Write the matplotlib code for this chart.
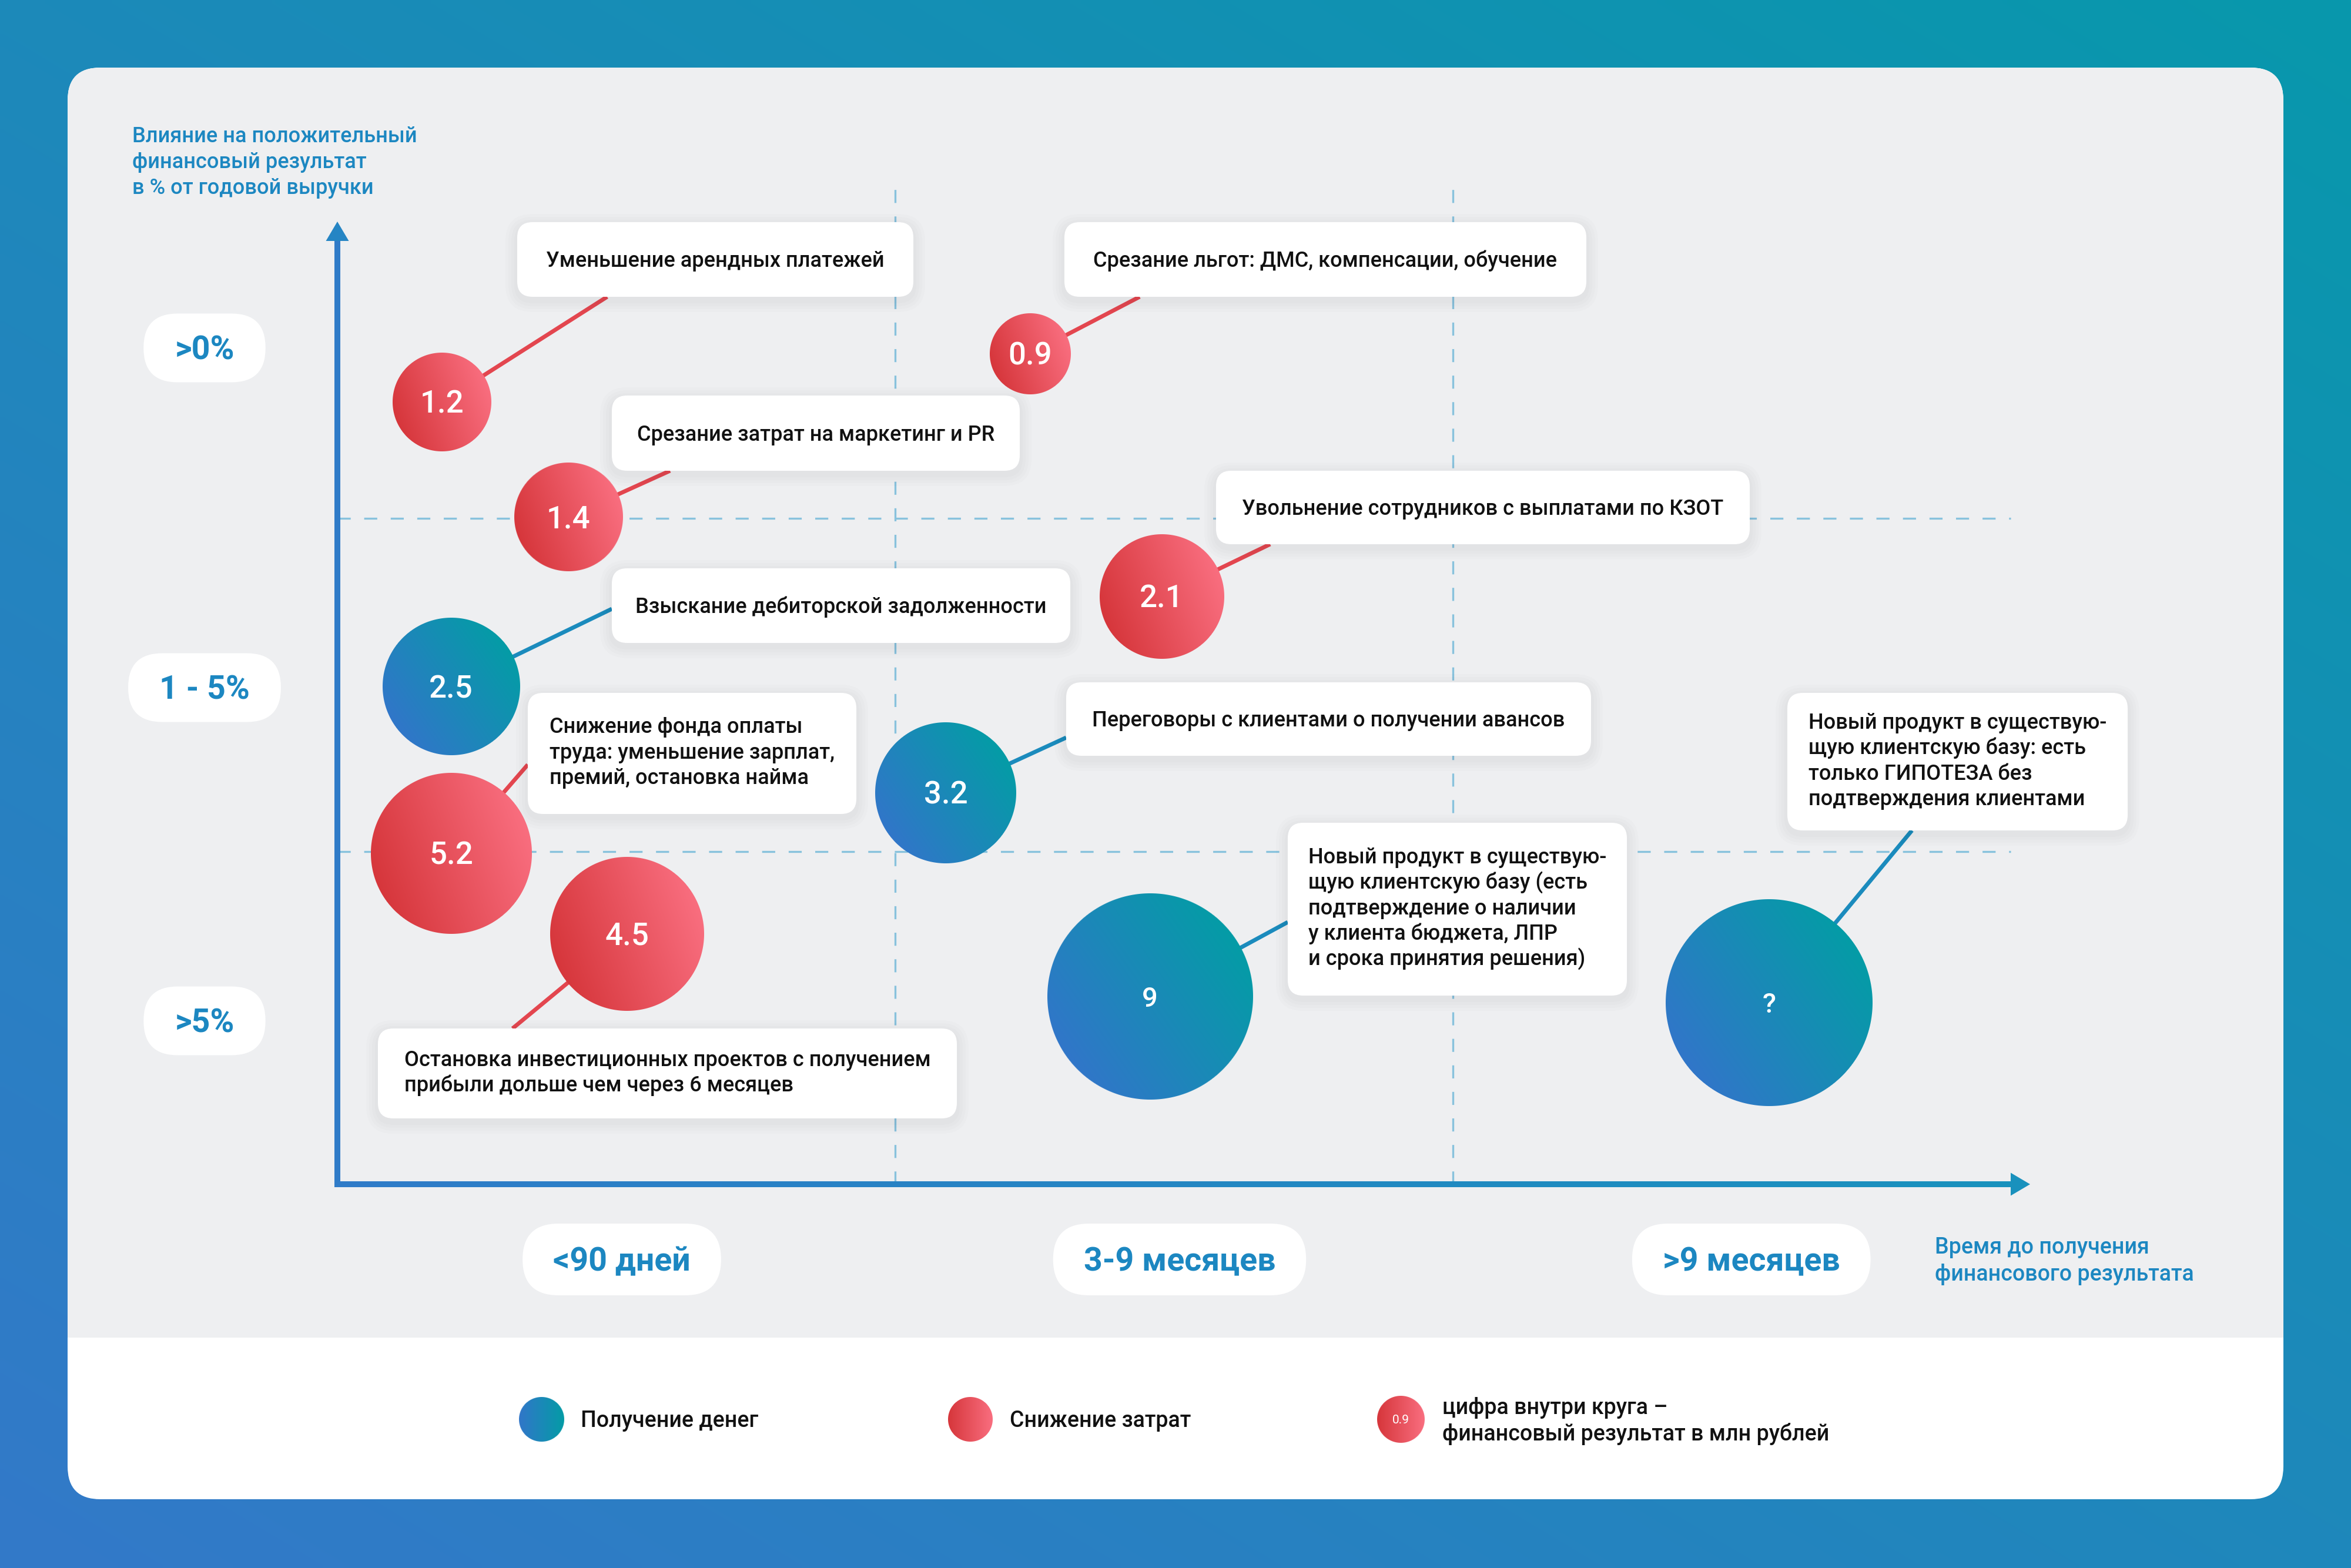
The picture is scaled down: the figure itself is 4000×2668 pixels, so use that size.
import numpy as np
import matplotlib
matplotlib.use('Agg')
import matplotlib.pyplot as plt
import matplotlib.transforms as mtransforms
from matplotlib.patches import FancyBboxPatch, Polygon, Rectangle
from matplotlib.collections import LineCollection
from matplotlib.colors import to_rgb

plt.rcParams['font.family'] = ['Roboto', 'DejaVu Sans']
plt.rcParams['lines.scale_dashes'] = False

# ---- values ----
time_labels = ['<90 дней', '3-9 месяцев', '>9 месяцев']
impact_labels = ['>5%', '1 - 5%', '>0%']          # rows, bottom to top
x_title = ['Время до получения', 'финансового результата']
y_title = ['Влияние на положительный', 'финансовый результат', 'в % от годовой выручки']

measures = [
    'Уменьшение арендных платежей',
    'Срезание льгот: ДМС, компенсации, обучение',
    'Срезание затрат на маркетинг и PR',
    'Увольнение сотрудников с выплатами по КЗОТ',
    'Взыскание дебиторской задолженности',
    'Снижение фонда оплаты\nтруда: уменьшение зарплат,\nпремий, остановка найма',
    'Переговоры с клиентами о получении авансов',
    'Остановка инвестиционных проектов с получением\nприбыли дольше чем через 6 месяцев',
    'Новый продукт в существую-\nщую клиентскую базу (есть\nподтверждение о наличии\nу клиента бюджета, ЛПР\nи срока принятия решения)',
    'Новый продукт в существую-\nщую клиентскую базу: есть\nтолько ГИПОТЕЗА без\nподтверждения клиентами',
]
kind = ['cost', 'cost', 'cost', 'cost', 'money', 'cost', 'money', 'cost', 'money', 'money']
result_mln = [1.2, 0.9, 1.4, 2.1, 2.5, 5.2, 3.2, 4.5, 9, np.nan]
# x = time column (0..3), y = impact row (0..3)
time_pos = [0.188, 1.242, 0.414, 1.478, 0.204, 0.204, 1.091, 0.519, 1.457, 2.567]
impact_pos = [2.351, 2.495, 2.005, 1.766, 1.495, 0.995, 1.176, 0.752, 0.563, 0.545]
bubble_size = [84, 69, 92, 106, 117, 137, 120, 131, 175, 176]

legend_labels = ['Получение денег', 'Снижение затрат',
                 'цифра внутри круга –\nфинансовый результат в млн рублей']
legend_sample = 0.9

# ---- layout (reference pixels) ----
W, H = 4000, 2668
X0, Y0, UX, UY = 574, 2015, 949, 566.3
box_px = [(880, 378, 1554, 505), (1811, 378, 2699, 505), (1041, 673, 1735, 801),
          (2069, 801, 2977, 926), (1041, 967, 1821, 1094), (898, 1179, 1457, 1385),
          (1814, 1161, 2707, 1286), (643, 1750, 1628, 1903), (2191, 1400, 2768, 1694),
          (3041, 1179, 3620, 1413)]
anchor_px = [(1033, 505), (1939, 505), (1140, 801), (2161, 926), (1041, 1036),
             (898, 1301), (1814, 1255), (872, 1750), (2191, 1569), (3253, 1413)]
time_tick_pos = [0.51, 1.51, 2.535]
impact_tick_px = [1737, 1170, 592]
colors = {'cost': ('#d6363b', '#f96e7f', 20, '#e3464f'),
          'money': ('#3176c9', '#049ca6', 35, '#1b8bbd')}
BLUE_TXT = '#1c87c1'

fig = plt.figure(figsize=(W / 100, H / 100), dpi=100)
ax = fig.add_axes([0, 0, 1, 1])
ax.set_axis_off()
ax.set_xlim(-X0 / UX, (W - X0) / UX)
ax.set_ylim(-(H - Y0) / UY, Y0 / UY)
ax.set_autoscale_on(False)
ref = mtransforms.Affine2D().scale(1 / UX, -1 / UY).translate(-X0 / UX, Y0 / UY) + ax.transData
renderer = fig.canvas.get_renderer()


def to_data(px, py):
    return (px - X0) / UX, (Y0 - py) / UY


def to_px(x, y):
    return X0 + x * UX, Y0 - y * UY


def mix(c0, c1, t):
    a, b = np.array(to_rgb(c0)), np.array(to_rgb(c1))
    return a + (b - a) * t[..., None]


def bubble(x, y, r, c0, c1, angle, z):
    n = int(2 * r) + 6
    g = np.arange(n) - n / 2 + 0.5
    gx, gy = np.meshgrid(g, g)
    alpha = np.clip(r - np.hypot(gx, gy) + 0.5, 0, 1)
    a = np.deg2rad(angle)
    t = np.clip(((gx * np.cos(a) + gy * np.sin(a)) / r + 1) / 2, 0, 1)
    img = np.dstack([mix(c0, c1, t), alpha])
    ax.imshow(img, extent=(x - n / 2 / UX, x + n / 2 / UX, y - n / 2 / UY, y + n / 2 / UY),
              origin='lower', aspect='auto', interpolation='bilinear', zorder=z)


def cap(fs):
    return 0.711 * fs * 100 / 72


def text_lines(lines, x, yc, step, fs, ha='left', **kw):
    b1 = yc + cap(fs) / 2 - (len(lines) - 1) * step / 2
    return [ax.text(x, b1 + i * step, s, transform=ref, fontsize=fs, va='baseline',
                    ha=ha, **kw) for i, s in enumerate(lines)]


def width(arts):
    return max(a.get_window_extent(renderer).width for a in arts)


# background and card
gx, gy = np.meshgrid(np.linspace(0, 1, 400), np.linspace(0, 1, 267))
t = np.clip((gx * W * 0.6 + gy * H) / (W * 0.6 + H), 0, 1)
ax.imshow(mix('#3379c9', '#0898ac', t), extent=(*ax.get_xlim(), *ax.get_ylim()),
          origin='lower', aspect='auto', interpolation='bilinear', zorder=0)
card_kw = dict(boxstyle='round,pad=0,rounding_size=56', transform=ref, ec='none')
ax.add_patch(FancyBboxPatch((115, 115), 3770, 2436, fc='white', zorder=1, **card_kw))
top = FancyBboxPatch((115, 115), 3770, 2436, fc='#eeeff1', zorder=1.1, **card_kw)
ax.add_patch(top)
top.set_clip_path(Rectangle((0, 0), W, 2276, transform=ref))

# dashed grid between categories
n_t, n_i = len(time_labels), len(impact_labels)
ax.hlines(range(1, n_i), 0, n_t, colors='#88c2dd', linewidth=2.4,
          linestyles=(0, (16, 16.5)), zorder=2)
ax.vlines(range(1, n_t), 0, n_i + 0.02, colors='#88c2dd', linewidth=2.4,
          linestyles=(0, (16, 16.5)), zorder=2)

# axes arrows
ax.plot([X0, X0], [Y0 + 5, 405], color='#2f7bc8', lw=7.2, solid_capstyle='butt',
        transform=ref, zorder=3)
ax.add_patch(Polygon([(X0 - 19.5, 410), (X0 + 19.5, 410), (X0, 377)], closed=True,
                     fc='#2585c4', ec='none', transform=ref, zorder=3))
xs = np.linspace(X0 - 5, 3425, 200)
segs = [[(xs[i], Y0), (xs[i + 1], Y0)] for i in range(len(xs) - 1)]
ax.add_collection(LineCollection(segs, colors=mix('#2f7bc8', '#1991bd', np.linspace(0, 1, len(segs))),
                                 linewidths=7.2, transform=ref, zorder=3, capstyle='butt'))
ax.add_patch(Polygon([(3421, Y0 - 19.5), (3421, Y0 + 19.5), (3454, Y0)], closed=True,
                     fc='#1991bd', ec='none', transform=ref, zorder=3))

# tick pills
for i, lab in enumerate(impact_labels):
    cx, cy = 348, impact_tick_px[i]
    arts = text_lines([lab], cx, cy, 0, 40, ha='center', color=BLUE_TXT,
                      fontweight='bold', zorder=6)
    w = width(arts) + 106
    ax.add_patch(FancyBboxPatch((cx - w / 2, cy - 58.5), w, 117,
                                boxstyle='round,pad=0,rounding_size=58', fc='white',
                                ec='none', transform=ref, zorder=5))
for i, lab in enumerate(time_labels):
    cx, cy = to_px(time_tick_pos[i], 0)[0], 2143
    arts = text_lines([lab], cx, cy, 0, 40, ha='center', color=BLUE_TXT,
                      fontweight='bold', zorder=6)
    w = width(arts) + 104
    ax.add_patch(FancyBboxPatch((cx - w / 2, cy - 61), w, 122,
                                boxstyle='round,pad=0,rounding_size=61', fc='white',
                                ec='none', transform=ref, zorder=5))

# axis titles
text_lines(y_title, 225, 273, 44, 26, color=BLUE_TXT, fontweight='medium', zorder=6)
text_lines(x_title, 3292, 2143, 46, 27, color=BLUE_TXT, fontweight='medium', zorder=6)

# measures: connector, label box, bubble
for i, label in enumerate(measures):
    c0, c1, ang, lc = colors[kind[i]]
    ax_, ay_ = to_data(*anchor_px[i])
    ax.plot([time_pos[i], ax_], [impact_pos[i], ay_], color=lc, lw=5,
            solid_capstyle='butt', zorder=4)

    l, tp, r, b = box_px[i]
    for k in range(1, 5):
        ax.add_patch(FancyBboxPatch((l - 5 * k, tp - 5 * k + 6), r - l + 10 * k, b - tp + 10 * k,
                                    boxstyle=f'round,pad=0,rounding_size={26 + 5 * k}',
                                    fc='black', alpha=0.012, ec='none', transform=ref, zorder=4.5))
    ax.add_patch(FancyBboxPatch((l, tp), r - l, b - tp, boxstyle='round,pad=0,rounding_size=26',
                                fc='white', ec='none', transform=ref, zorder=5))
    lines = label.split('\n')
    yc = (tp + b) / 2 - (4 if len(lines) > 1 else 0)
    arts = text_lines(lines, l, yc, 43.5, 26, color='#111111', fontweight='medium', zorder=6)
    x_left = l + (r - l - width(arts)) / 2
    for a in arts:
        a.set_x(x_left)

    bubble(time_pos[i], impact_pos[i], bubble_size[i], c0, c1, ang, 7)
    v = result_mln[i]
    txt = '?' if np.isnan(v) else f'{v:g}'
    fs = 34 if txt in ('9', '?') else 38
    bx, by = to_px(time_pos[i], impact_pos[i])
    ax.text(bx, by + cap(fs) / 2, txt, transform=ref, fontsize=fs, color='white',
            ha='center', va='baseline', fontweight='medium', zorder=8)

# legend
leg_x = [921, 1651, 2383]
leg_kind = ['money', 'cost', 'cost']
for i, lab in enumerate(legend_labels):
    c0, c1, ang, lc = colors[leg_kind[i]]
    r = 40 if i == 2 else 38
    bubble(*to_data(leg_x[i], 2415), r, c0, c1, 0, 7)
    if i == 2:
        ax.text(leg_x[i], 2415 + cap(15) / 2, f'{legend_sample:g}', transform=ref, fontsize=15,
                color='white', ha='center', va='baseline', zorder=8)
    text_lines(lab.split('\n'), leg_x[i] + 67 + (4 if i == 2 else 0), 2415, 45, 27,
               color='#111111', fontweight='medium', zorder=6)

fig.savefig('out.png', dpi=100)
